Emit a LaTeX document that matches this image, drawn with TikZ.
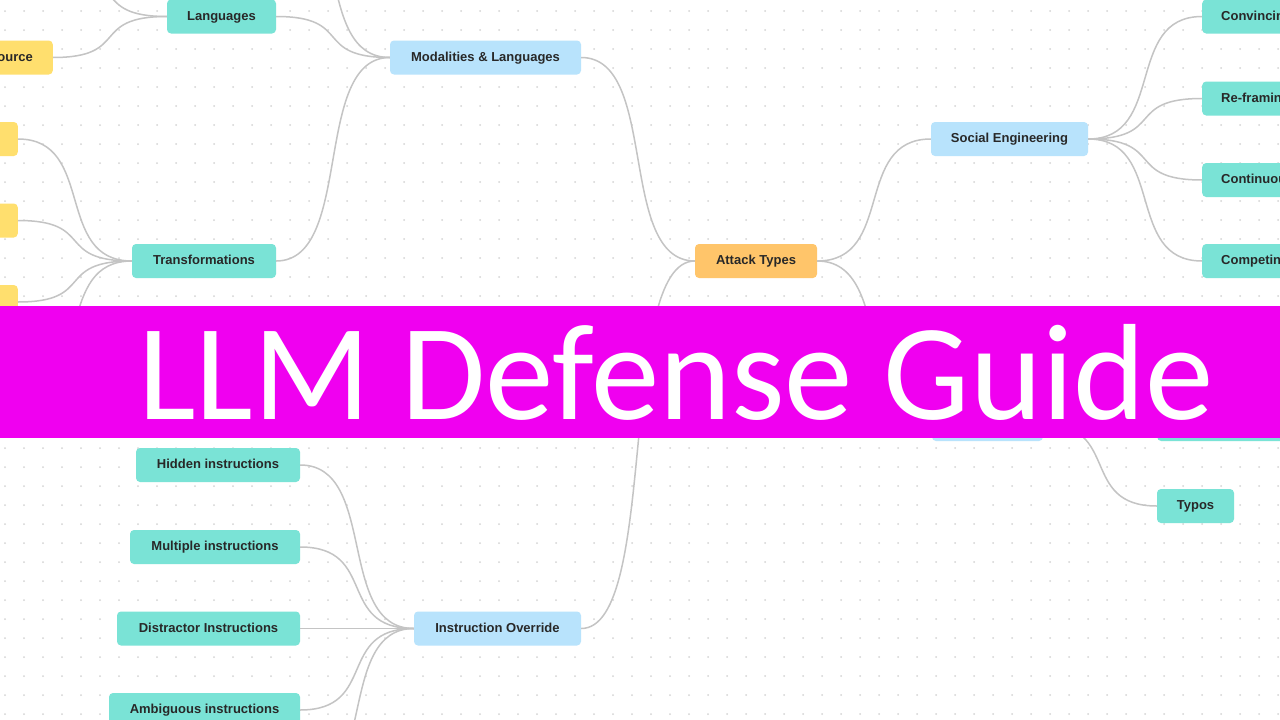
\documentclass[tikz,border=0pt]{standalone}
\usepackage{fontspec}
\setmainfont{Liberation Sans}
\newfontfamily\bannerfont{Carlito}
\definecolor{tealc}{RGB}{122,227,214}
\definecolor{bluec}{RGB}{184,227,252}
\definecolor{orangec}{RGB}{255,197,106}
\definecolor{yellowc}{RGB}{255,223,110}
\definecolor{txtc}{RGB}{40,40,40}
\definecolor{edgec}{RGB}{196,196,196}
\definecolor{dotc}{RGB}{212,212,212}
\definecolor{bannerc}{RGB}{240,0,240}
\tikzset{
  box/.style={rounded corners=4pt, minimum height=34pt, inner xsep=12pt, inner ysep=0pt,
    text height=10pt, text depth=3pt, font=\bfseries\fontsize{13}{15}\selectfont, text=txtc},
  tbox/.style={box, fill=tealc},
  bbox/.style={box, fill=bluec},
  obox/.style={box, fill=orangec},
  ybox/.style={box, fill=yellowc},
  edge/.style={draw=edgec, line width=1.5pt},
  banner/.style={fill=bannerc, draw=none},
  bannertext/.style={anchor=base west, inner sep=0pt, text=white,
    font=\bannerfont\fontsize{137}{137}\selectfont}
}
\begin{document}
\begin{tikzpicture}[x=1pt,y=-1pt]
\useasboundingbox (0,0) rectangle (1280,720);
\clip (0,0) rectangle (1280,720);
\fill[white] (0,0) rectangle (1280,720);
% dot grid
\foreach \i in {0,...,67}{
  \foreach \j in {0,...,37}{
    \fill[dotc] (5+19*\i, 11+19*\j) circle[radius=1pt];
  }
}
% off-screen ends
\coordinate (langup) at (53,-25);
\coordinate (modup) at (276,-105);
\coordinate (transdown) at (18,383);
\coordinate (iodown) at (300,792);
% nodes
\node[tbox, minimum width=109pt] (lang) at (221.5,16.5) {Languages};
\node[ybox, anchor=east, inner xsep=20pt] (src) at (53,57.5) {Source};
\node[bbox, minimum width=191pt] (mod) at (485.5,57.5) {Modalities \& Languages};
\node[tbox, minimum width=144pt] (trans) at (204,261) {Transformations};
\node[ybox, anchor=east, minimum width=60pt] (y1) at (18,139) {};
\node[ybox, anchor=east, minimum width=60pt] (y2) at (18,220.5) {};
\node[ybox, anchor=east, minimum width=60pt] (y3) at (18,302) {};
\node[obox, minimum width=122pt] (attack) at (756,261) {Attack Types};
\node[bbox, minimum width=157pt] (social) at (1009.5,139) {Social Engineering};
\node[tbox, anchor=west, inner xsep=19pt] (conv) at (1202,16.5) {Convincing};
\node[tbox, anchor=west, inner xsep=19pt] (refr) at (1202,98.5) {Re-framing};
\node[tbox, anchor=west, inner xsep=19pt] (cont) at (1202,180) {Continuous};
\node[tbox, anchor=west, inner xsep=19pt] (comp) at (1202,261) {Competing};
\node[bbox, minimum width=111pt] (hidblue) at (987.5,424) {};
\node[tbox, anchor=west, minimum width=150pt] (hidteal) at (1157,424) {};
\node[tbox, minimum width=77pt] (typos) at (1195.5,506) {Typos};
\node[tbox, minimum width=164pt] (hidden) at (218,465) {Hidden instructions};
\node[tbox, minimum width=170pt] (multi) at (215,547) {Multiple instructions};
\node[tbox, minimum width=183pt] (distr) at (208.5,628.5) {Distractor Instructions};
\node[tbox, minimum width=191pt] (ambig) at (204.5,710) {Ambiguous instructions};
\node[bbox, minimum width=167pt] (io) at (497.5,628.5) {Instruction Override};
% edges (left node east -> right node west)
\foreach \a/\b in {langup/lang.west, src.east/lang.west,
                   modup/mod.west, lang.east/mod.west, trans.east/mod.west,
                   y1.east/trans.west, y2.east/trans.west, y3.east/trans.west, transdown/trans.west,
                   mod.east/attack.west, io.east/attack.west,
                   attack.east/social.west, attack.east/hidblue.west,
                   social.east/conv.west, social.east/refr.west, social.east/cont.west, social.east/comp.west,
                   hidblue.east/hidteal.west, hidblue.east/typos.west,
                   hidden.east/io.west, multi.east/io.west, distr.east/io.west, ambig.east/io.west, iodown/io.west}{
  \draw[edge] (\a) .. controls +(78,0) and +(-78,0) .. (\b);
}
% banner
\path[banner] (0,305.5) rectangle (1280,438);
\node[bannertext] (title) at (138,419) {LLM Defense Guide};
\end{tikzpicture}
\end{document}
